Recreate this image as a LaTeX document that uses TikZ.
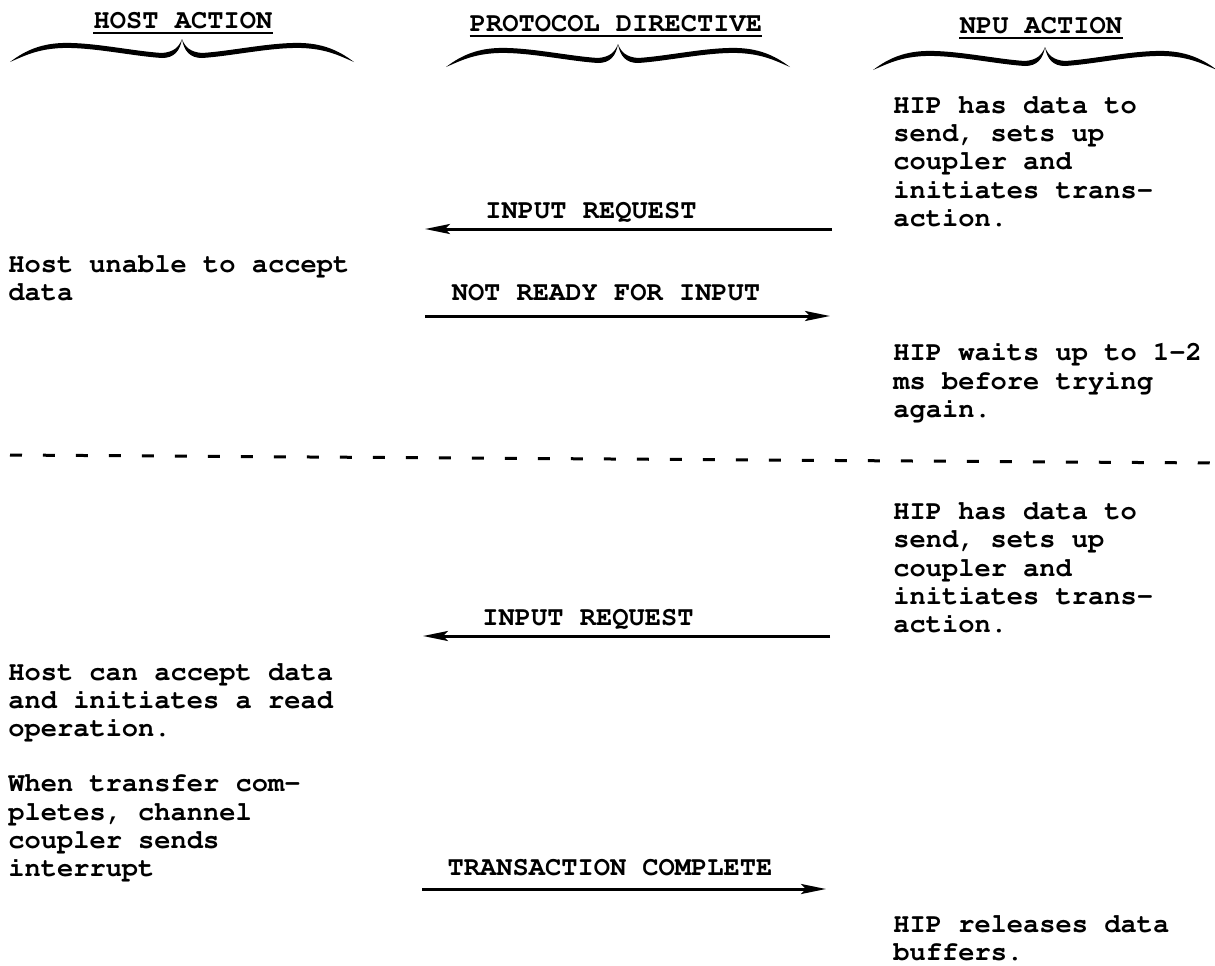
\documentclass[tikz,border=0pt]{standalone}
\usepackage[T1]{fontenc}
\usepackage{courier}
\usepackage{tikz}
\usetikzlibrary{arrows.meta, positioning, calc}

\begin{document}
\begin{tikzpicture}[
  x=0.02cm, y=-0.02cm,
  every node/.style={font=\ttfamily\bfseries\fontsize{15.4}{15.94}\selectfont, inner sep=0pt},
  head/.style={anchor=base},
  uline/.style={line width=0.05cm},
  txt/.style={anchor=base west, align=left},
  lbl/.style={anchor=base},
  msg/.style={line width=0.06cm, -{Stealth[length=0.5cm, width=0.2cm, inset=0.1cm]}},
  sep/.style={line width=0.06cm, dash pattern=on 0.24cm off 0.42cm},
  wbrace/.pic={
    \foreach \s in {1,-1}
      \fill[xscale=\s] (0,0) .. controls (3,8) and (8,13) .. (20,14)
        .. controls (50,12) and (90,3) .. (120,4)
        .. controls (145,5) and (160,14) .. (172,23)
        .. controls (158,17) and (145,10) .. (120,9)
        .. controls (90,8) and (50,17) .. (20,19)
        .. controls (8,19) and (2,12) .. (0,0) -- cycle;
  }
]
\useasboundingbox (0,0) rectangle (1215,965);

% column heads
\node[head] (hhost) at (183,28) {HOST ACTION};
\node[head] (hproto) at (616,31) {PROTOCOL DIRECTIVE};
\node[head] (hnpu) at (1041,33) {NPU ACTION};
\foreach \n in {hhost,hproto,hnpu}
  \draw[uline] ([yshift=-0.1cm]\n.base west) -- ([yshift=-0.1cm]\n.base east);
\pic at (182,39) {wbrace};
\pic at (618,44) {wbrace};
\pic at (1045,47) {wbrace};

% first attempt (text blocks placed by their last line)
\node[txt] (npu1) at (893,226) {HIP has data to\\send, sets up\\coupler and\\initiates trans-\\action.};
\coordinate (npuA) at (832,229);
\coordinate (hostA) at (425,229);
\draw[msg] (npuA) -- (hostA);
\node[lbl] (req1) at (591,218) {INPUT REQUEST};

\node[txt] (host1) at (8,300) {Host unable to accept\\data};
\coordinate (hostB) at (425,316);
\coordinate (npuB) at (830,316);
\draw[msg] (hostB) -- (npuB);
\node[lbl] (nrdy) at (606,300) {NOT READY FOR INPUT};

\node[txt] (npu2) at (893,417) {HIP waits up to 1-2\\ms before trying\\again.};

\coordinate (sepL) at (10,455);
\coordinate (sepR) at (1215,463);
\draw[sep] (sepL) -- (sepR);

% second attempt
\node[txt] (npu3) at (893,632) {HIP has data to\\send, sets up\\coupler and\\initiates trans-\\action.};
\coordinate (npuC) at (830,636);
\coordinate (hostC) at (423,636);
\draw[msg] (npuC) -- (hostC);
\node[lbl] (req2) at (588,625) {INPUT REQUEST};

\node[txt] (host2) at (8,736) {Host can accept data\\and initiates a read\\operation.};
\node[txt] (host3) at (8,876) {When transfer com-\\pletes, channel\\coupler sends\\interrupt};
\coordinate (hostD) at (422,889);
\coordinate (npuD) at (826,889);
\draw[msg] (hostD) -- (npuD);
\node[lbl] (tcmp) at (610,875) {TRANSACTION COMPLETE};

\node[txt] (npu4) at (893,960) {HIP releases data\\buffers.};
\end{tikzpicture}
\end{document}
